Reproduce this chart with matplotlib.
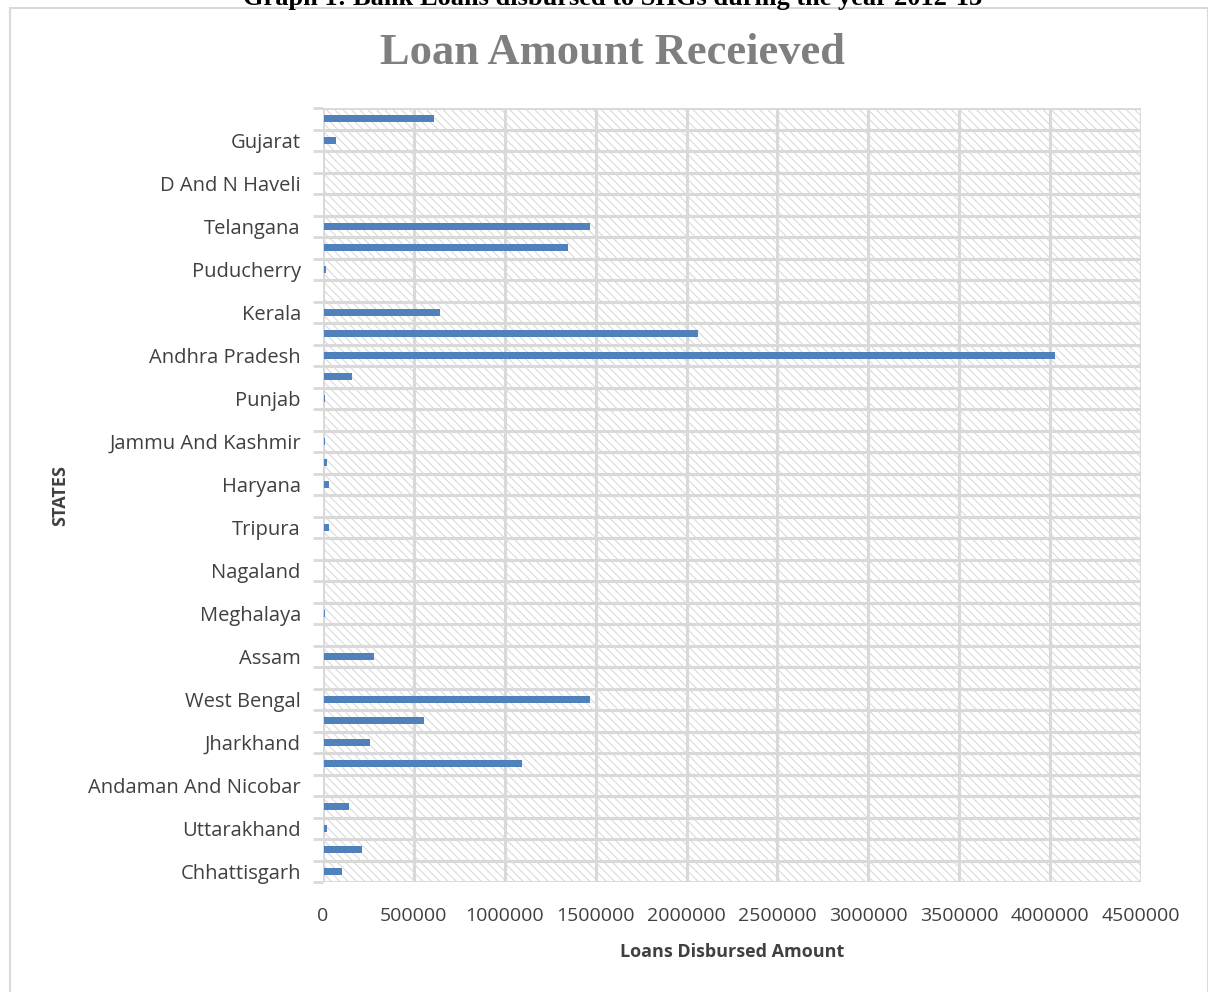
import matplotlib
matplotlib.use("Agg")
import matplotlib.pyplot as plt
from matplotlib.patches import Rectangle
import numpy as np

states = ["Chhattisgarh", "Madhya Pradesh", "Uttarakhand", "Uttar Pradesh",
          "Andaman And Nicobar", "Bihar", "Jharkhand", "Odisha", "West Bengal",
          "Sikkim", "Assam", "Arunachal Pradesh", "Meghalaya", "Manipur",
          "Nagaland", "Mizoram", "Tripura", "Delhi", "Haryana",
          "Himachal Pradesh", "Jammu And Kashmir", "Chandigarh", "Punjab",
          "Rajasthan", "Andhra Pradesh", "Karnataka", "Kerala", "Lakshadweep",
          "Puducherry", "Tamil Nadu", "Telangana", "Daman And Diu",
          "D And N Haveli", "Goa", "Gujarat", "Maharashtra"]
amounts = [99000, 209000, 15000, 137000,
           0, 1084000, 253000, 545000, 1463000,
           0, 270000, 0, 5000, 0,
           0, 0, 25000, 0, 25000,
           12000, 5000, 0, 1500,
           154000, 4020000, 2057000, 633000, 0,
           10000, 1342000, 1463000, 0,
           0, 0, 66000, 605000]
xticks = [0, 500000, 1000000, 1500000, 2000000, 2500000, 3000000,
          3500000, 4000000, 4500000]

W, H = 1208, 992
fig = plt.figure(figsize=(W / 100, H / 100), dpi=100)
plt.rcParams['hatch.linewidth'] = 0.8
plt.rcParams['hatch.color'] = '#dadada'

# chart frame
fig.patches.append(Rectangle((10 / W, -0.1), (W - 10.5) / W, 1 - 8 / H + 0.1,
                             transform=fig.transFigure, fill=False,
                             edgecolor='#d9d9d9', linewidth=1.5, zorder=0))

# document caption (clipped at top, as in the source)
fig.text(613 / W, 1 - 5 / H,
         "Graph 1: Bank Loans disbursed to SHGs during the year 2012-13",
         ha='center', va='baseline', fontsize=19, fontweight='bold',
         family='Liberation Serif', color='black')

ax = fig.add_axes([323 / W, 1 - 882 / H, (1141 - 323) / W, (882 - 108) / H])
n = len(states)
y = np.arange(n)
ax.set_ylim(-0.5, n - 0.5)
ax.set_xlim(0, 4500000)

# hatched plot area
ax.add_patch(Rectangle((0, 0), 1, 1, transform=ax.transAxes, facecolor='white',
                       hatch='\\\\\\\\', edgecolor='#dadada', linewidth=0,
                       zorder=0))

ax.barh(y, amounts, height=0.33, color='#4F81BD', zorder=3, left=8000)

# gridlines
for xv in xticks:
    ax.axvline(xv, color='#d9d9d9', linewidth=2.2, zorder=2)
for b in np.arange(-0.5, n, 1.0):
    ax.axhline(b, color='#d9d9d9', linewidth=2.2, zorder=2)

for s in ax.spines.values():
    s.set_visible(False)

ax.set_xticks(xticks)
ax.set_xticklabels([str(v) for v in xticks], fontsize=14, color='#404040',
                   family='Open Sans')
ax.tick_params(axis='x', length=0, pad=18)

ax.set_yticks(y[::2])
ax.set_yticklabels(states[::2], fontsize=14.5, color='#404040',
                   family='Open Sans')
ax.set_yticks(np.arange(-0.5, n, 1.0), minor=True)
ax.tick_params(axis='y', which='major', length=0, pad=16)
ax.tick_params(axis='y', which='minor', length=7, width=2, color='#d9d9d9')

ax.set_xlabel("Loans Disbursed Amount", fontsize=13, fontweight='bold',
              color='#404040', family='Open Sans', labelpad=13)
fig.text(60 / W, 1 - 495 / H, "STATES", rotation=90, ha='center', va='center',
         fontsize=13, fontweight='bold', color='#404040', family='Open Sans')

fig.text(612 / W, 1 - 53 / H, "Loan Amount Receieved", ha='center',
         va='center', fontsize=32, fontweight='bold', color='#7f7f7f',
         family='Liberation Serif')

fig.savefig("out.png", dpi=100)
